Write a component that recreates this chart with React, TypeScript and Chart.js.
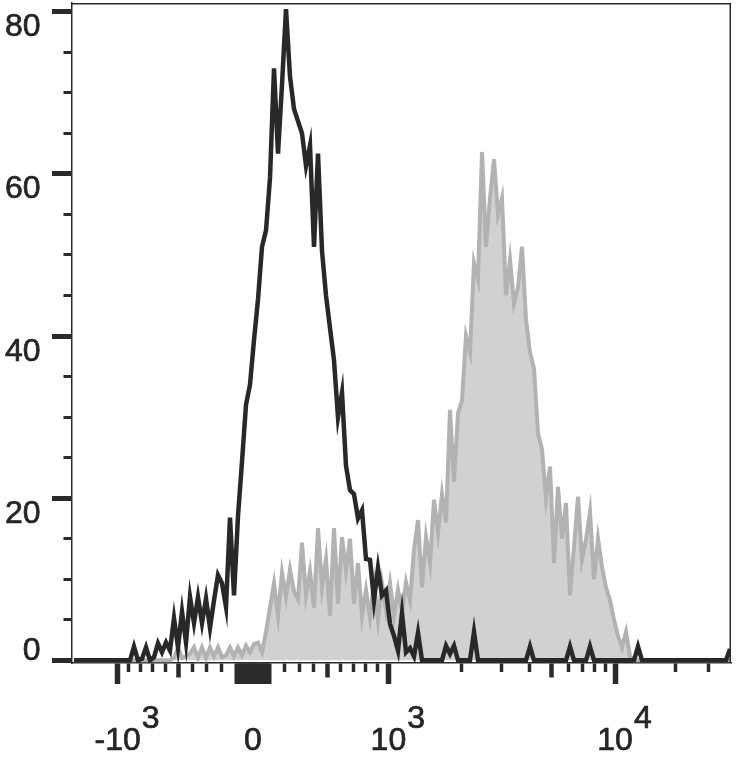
import React, { useEffect, useRef } from "react";
import { Chart, registerables } from "chart.js";

Chart.register(...registerables);

// ---------- data ----------
// Histogram bins along the biexponential display axis (display units, bin centres)
const BIN_FIRST = -179;
const BIN_STEP = 4;

// Unstained / control histogram (black outline)
const CONTROL_COUNTS = [
  0, 0, 0, 0, 0, 0, 0, 0, 0, 0,
  0, 0, 0, 0, 0, 1.7, 0, 0.2, 1.6, 0,
  0.4, 2.1, 1.0, 2.2, 1.2, 5.2, 1.6, 6.0, 2.2, 7.8,
  4.6, 7.8, 4.6, 7.6, 4.0, 7.4, 10.5, 9.5, 6.6, 17.6,
  8.0, 17.8, 24.5, 31.5, 34, 39.5, 44.5, 51, 53, 59.5,
  73, 62.5, 71, 80.3, 72, 68, 66.5, 65, 61, 63.5,
  51, 62.5, 50.5, 45, 41, 37, 30, 33, 24, 21,
  20.5, 17.5, 18.5, 12.5, 12.4, 7.4, 11.4, 8.0, 8.6, 4.5,
  3.0, 1.2, 5.8, 1.0, 1.5, 0.5, 3.4, 0, 0, 0,
  0, 0, 0, 1.8, 0.8, 1.8, 0, 0, 0, 0,
  3.5, 0, 0, 0, 0, 0, 0, 0, 0, 0,
  0, 0, 0, 0, 1.7, 0, 0, 0, 0, 0,
  0, 0, 0, 0, 1.7, 0, 0, 0, 0, 1.7,
  0, 0, 0, 0, 0, 0, 0, 0, 0, 0,
  0, 1.7, 0, 0, 0, 0, 0, 0, 0, 0,
  0, 0, 0, 0, 0, 0, 0, 0, 0, 0,
  0, 0, 0, 0, 1.4,
];

// Stained histogram (grey, filled)
const STAINED_COUNTS = [
  0, 0, 0, 0, 0, 0, 0, 0, 0, 0,
  0, 0, 0, 0, 0, 0, 0, 0, 0, 0,
  0, 0, 0, 0, 0, 0.3, 1.6, 0.3, 0.5, 0.8,
  1.6, 0.3, 1.6, 0.3, 1.6, 0.5, 1.6, 0.4, 0.6, 1.6,
  0.5, 1.6, 0.6, 1.8, 1.0, 2.0, 2.2, 1.0, 3.5, 6.5,
  9.5, 5.5, 10.8, 7.8, 11.2, 8.5, 7.5, 14.5, 8, 11,
  6.5, 16.3, 9, 12.5, 5.5, 16.3, 7, 15.2, 11, 15,
  7, 12, 5.5, 8.7, 5.3, 9.5, 5, 9.5, 6.2, 9.5,
  5.5, 8.7, 6, 9.6, 7.4, 13.6, 17.3, 9, 15.2, 12,
  19.8, 15.7, 20.5, 17, 30.9, 22, 30.5, 32, 40, 38,
  49, 47, 62.7, 51, 57, 61.8, 55, 57, 45, 49.4,
  44, 46, 51, 42, 38, 36, 28, 26, 20, 23.9,
  12, 21.4, 15, 19.4, 8, 14, 20.2, 12.4, 14.9, 18.3,
  10, 15, 11.5, 9, 7.4, 5, 3, 1.6, 3.5, 0.5,
  0, 0, 0, 0, 0, 0, 0, 0, 0, 0,
  0, 0, 0, 0, 0, 0, 0, 0, 0, 0,
  0, 0, 0, 0, 0,
];

// Axis definitions
const X_MIN = -181;
const X_MAX = 478;
const Y_MIN = -0.33;
const Y_MAX = 81.07;

const Y_TICK_VALUES = [0, 5, 10, 15, 20, 25, 30, 35, 40, 45, 50, 55, 60, 65, 70, 75, 80];
const Y_LABEL_VALUES = [0, 20, 40, 60, 80];

const X_MAJOR_TICKS = [-1000, 0, 1000, 10000];
const X_MAJOR_LABELS: [string, string][] = [
  ["-10", "3"],
  ["0", ""],
  ["10", "3"],
  ["10", "4"],
];
const X_ZERO_TICKS = [-100, -90, -80, -70, -60, -50, -40, -30, -20, -10, 10, 20, 30, 40, 50, 60, 70, 80, 90, 100];
const X_MID_TICKS = [-500, 500, 5000];
const X_MINOR_TICKS = [
  -900, -800, -700, -600, -400, -300, -200,
  200, 300, 400, 600, 700, 800, 900,
  2000, 3000, 4000, 6000, 7000, 8000, 9000,
  20000, 30000,
];

// ---------- styles ----------
const TEXT_COLOR = "#252525";
const AXIS_COLOR = "#2a2a2a";
const CONTROL_COLOR = "#282828";
const STAINED_LINE = "#b2b2b5";
const STAINED_FILL = "#d1d1d1";
const FONT = '32px "Liberation Sans", Arial, sans-serif';

// biexponential display transform (data value -> display units)
function biex(v: number): number {
  const s = v < 0 ? -1 : 1;
  const u = Math.abs(v);
  if (u <= 1000) {
    const U = u / 1000;
    return s * (165 * U - 35 * U * U + 5.4 * U * U * U);
  }
  const L = Math.log10(u / 1000);
  return s * (135.4 + 247.7 * L - 21 * L * L);
}

type XTick = { value: number; kind: string };

function buildXTicks(): XTick[] {
  const list: XTick[] = [];
  X_ZERO_TICKS.forEach((v) => list.push({ value: biex(v), kind: "zero" }));
  X_MAJOR_TICKS.forEach((v) => list.push({ value: biex(v), kind: "major" }));
  X_MID_TICKS.forEach((v) => list.push({ value: biex(v), kind: "mid" }));
  X_MINOR_TICKS.forEach((v) => list.push({ value: biex(v), kind: "minor" }));
  return list.sort((a, b) => a.value - b.value);
}

function drawText(ctx: CanvasRenderingContext2D, s: string, x: number, y: number) {
  ctx.fillText(s, x, y);
  ctx.strokeText(s, x, y);
}

const axisTextPlugin = {
  id: "axisText",
  afterDraw(chart: any) {
    const ctx: CanvasRenderingContext2D = chart.ctx;
    const { top, right, bottom, left } = chart.chartArea;
    ctx.save();
    // frame top and right
    ctx.strokeStyle = AXIS_COLOR;
    ctx.lineWidth = 1.5;
    ctx.beginPath();
    ctx.moveTo(left, top + 0.75);
    ctx.lineTo(right - 0.75, top + 0.75);
    ctx.lineTo(right - 0.75, bottom);
    ctx.stroke();

    ctx.fillStyle = TEXT_COLOR;
    ctx.strokeStyle = TEXT_COLOR;
    ctx.lineWidth = 0.7;
    ctx.font = FONT;
    ctx.textBaseline = "alphabetic";
    const ys = chart.scales.y;
    ctx.textAlign = "right";
    Y_LABEL_VALUES.forEach((v) => {
      const py = ys.getPixelForValue(v);
      const base = v === 0 ? py : py + 24.5;
      drawText(ctx, String(v), 40.5, base);
    });

    const xs = chart.scales.x;
    X_MAJOR_TICKS.forEach((v, i) => {
      const [b, e] = X_MAJOR_LABELS[i];
      const px = xs.getPixelForValue(biex(v));
      ctx.textAlign = "center";
      drawText(ctx, b, px, 750);
      if (e) {
        const w = ctx.measureText(b).width;
        ctx.textAlign = "left";
        drawText(ctx, e, px + w / 2 + 1, 727.5);
      }
    });
    ctx.restore();
  },
};

export default function App() {
  const ref = useRef<HTMLCanvasElement>(null);

  useEffect(() => {
    const xTicks = buildXTicks();
    const chart = new Chart(ref.current as HTMLCanvasElement, {
      type: "line",
      data: {
        datasets: [
          {
            label: "Control",
            data: CONTROL_COUNTS.map((y, i) => ({ x: BIN_FIRST + i * BIN_STEP, y })),
            borderColor: CONTROL_COLOR,
            borderWidth: 4.5,
            fill: false,
            pointRadius: 0,
            tension: 0,
            borderJoinStyle: "miter",
          },
          {
            label: "Stained",
            data: STAINED_COUNTS.map((y, i) => ({ x: BIN_FIRST + i * BIN_STEP, y })),
            borderColor: STAINED_LINE,
            backgroundColor: STAINED_FILL,
            borderWidth: 4,
            fill: "origin",
            pointRadius: 0,
            tension: 0,
            borderJoinStyle: "miter",
          },
        ],
      },
      options: {
        animation: false,
        responsive: false,
        devicePixelRatio: 1,
        layout: { padding: { top: 3, right: 9, left: 0, bottom: 0 } },
        plugins: {
          legend: { display: false },
          tooltip: { enabled: false },
        },
        scales: {
          x: {
            type: "linear",
            min: X_MIN,
            max: X_MAX,
            afterBuildTicks: (s: any) => {
              s.ticks = xTicks.map((t) => ({ value: t.value, kind: t.kind }));
            },
            afterFit: (s: any) => {
              s.height = 102;
            },
            ticks: { display: false, autoSkip: false },
            grid: {
              drawOnChartArea: false,
              drawTicks: true,
              tickLength: 21,
              tickColor: AXIS_COLOR,
              tickWidth: (c: any) => {
                const k = c.tick && c.tick.kind;
                if (k === "major") return 5.5;
                if (k === "mid") return 4.5;
                if (k === "zero") return 4;
                return 3.5;
              },
              tickBorderDash: (c: any) => {
                const k = c.tick && c.tick.kind;
                if (k === "major" || k === "zero") return [];
                if (k === "mid") return [14, 200];
                return [8.5, 200];
              },
            },
            border: { display: true, color: AXIS_COLOR, width: 1.5 },
          },
          y: {
            type: "linear",
            min: Y_MIN,
            max: Y_MAX,
            afterBuildTicks: (s: any) => {
              s.ticks = Y_TICK_VALUES.map((v) => ({ value: v, major20: v % 20 === 0 }));
            },
            afterFit: (s: any) => {
              s.width = 72;
            },
            ticks: { display: false, autoSkip: false },
            grid: {
              drawOnChartArea: false,
              drawTicks: true,
              tickLength: 20,
              tickColor: AXIS_COLOR,
              tickWidth: (c: any) => (c.tick && c.tick.major20 ? 5 : 3),
              tickBorderDash: (c: any) => (c.tick && c.tick.major20 ? [] : [0, 11.5, 30, 200]),
            },
            border: { display: true, color: AXIS_COLOR, width: 1.5 },
          },
        },
      },
      plugins: [axisTextPlugin],
    } as any);
    return () => chart.destroy();
  }, []);

  return (
    <div style={{ position: "absolute", left: 0, top: 0, width: 740, height: 765, background: "#ffffff" }}>
      <canvas ref={ref} width={740} height={765} style={{ display: "block", width: 740, height: 765 }} />
    </div>
  );
}
